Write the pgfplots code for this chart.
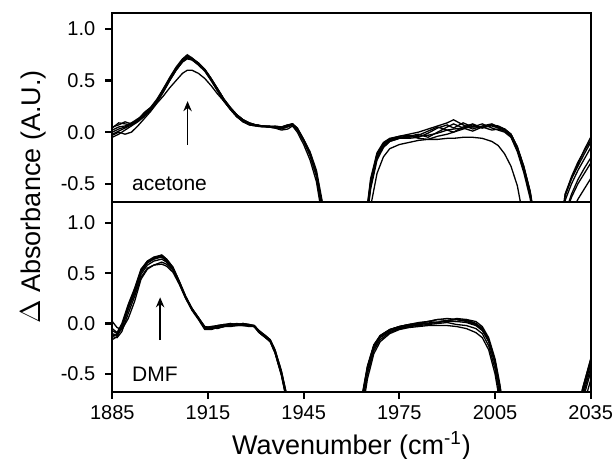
\documentclass[border=0pt]{standalone}
\usepackage{pgfplots}
\pgfplotsset{compat=1.18}
\usepackage{pgfplotstable}
\usepackage{fontspec}
\setmainfont{Liberation Sans}
\usetikzlibrary{arrows.meta}

% acetone traces (top panel)
\pgfplotstableread{
x a b c d e f g
1885 0.00 0.04 -0.05 0.02 -0.03 0.05 -0.02
1887 0.03 0.09 -0.02 0.05 0.00 0.07 0.01
1889 0.05 0.08 0.02 0.06 -0.02 0.10 0.04
1891 0.08 0.07 0.06 0.09 0.00 0.08 0.07
1893 0.11 0.12 0.10 0.13 0.06 0.12 0.11
1895 0.16 0.18 0.15 0.17 0.13 0.19 0.16
1897 0.22 0.23 0.22 0.22 0.20 0.24 0.21
1899 0.30 0.31 0.31 0.29 0.28 0.32 0.29
1901 0.40 0.41 0.42 0.39 0.35 0.42 0.39
1903 0.51 0.52 0.53 0.50 0.43 0.52 0.50
1905 0.61 0.62 0.63 0.60 0.50 0.62 0.60
1907 0.69 0.70 0.71 0.68 0.57 0.70 0.68
1908.5 0.73 0.72 0.75 0.72 0.60 0.74 0.71
1910 0.71 0.71 0.72 0.70 0.60 0.71 0.70
1912 0.66 0.67 0.67 0.65 0.57 0.67 0.66
1914 0.60 0.61 0.60 0.59 0.52 0.61 0.60
1916 0.51 0.52 0.50 0.50 0.45 0.52 0.51
1918 0.41 0.42 0.40 0.40 0.37 0.42 0.42
1920 0.31 0.32 0.30 0.30 0.30 0.32 0.32
1922 0.23 0.24 0.22 0.22 0.23 0.23 0.24
1924 0.16 0.17 0.15 0.15 0.17 0.16 0.17
1926 0.11 0.12 0.10 0.10 0.12 0.11 0.12
1928 0.08 0.08 0.07 0.07 0.09 0.08 0.09
1930 0.07 0.07 0.06 0.06 0.07 0.07 0.07
1932 0.06 0.06 0.06 0.05 0.06 0.06 0.06
1934 0.05 0.06 0.05 0.05 0.05 0.06 0.05
1936 0.05 0.05 0.06 0.04 0.04 0.05 0.05
1938 0.04 0.03 0.05 0.04 0.02 0.05 0.04
1940 0.06 0.05 0.07 0.06 0.03 0.07 0.06
1941.5 0.08 0.07 0.08 0.08 0.06 0.08 0.07
1943 0.03 0.02 0.04 0.03 0.00 0.04 0.03
1945 -0.08 -0.09 -0.07 -0.08 -0.12 -0.07 -0.08
1947 -0.21 -0.23 -0.19 -0.21 -0.27 -0.20 -0.22
1949 -0.40 -0.43 -0.37 -0.41 -0.48 -0.39 -0.42
1951 -0.75 -0.80 -0.70 -0.76 -0.85 -0.73 -0.78
1953 -1.20 -1.20 -1.20 -1.20 -1.20 -1.20 -1.20
1958 -1.50 -1.50 -1.50 -1.50 -1.50 -1.50 -1.50
1963 -1.30 -1.30 -1.30 -1.30 -1.40 -1.30 -1.30
1965 -0.75 -0.72 -0.78 -0.70 -0.95 -0.74 -0.80
1966 -0.50 -0.47 -0.53 -0.45 -0.72 -0.49 -0.55
1968 -0.23 -0.21 -0.25 -0.20 -0.40 -0.22 -0.27
1970 -0.13 -0.11 -0.14 -0.10 -0.24 -0.12 -0.15
1972 -0.08 -0.07 -0.09 -0.06 -0.16 -0.07 -0.09
1975 -0.055 -0.04 -0.06 -0.04 -0.12 -0.05 -0.06
1978 -0.045 -0.02 -0.06 -0.03 -0.10 -0.04 -0.05
1981 -0.04 0.00 -0.05 -0.06 -0.08 -0.02 -0.03
1984 -0.03 0.03 -0.01 -0.07 -0.07 -0.05 0.01
1987 -0.01 0.06 0.04 -0.04 -0.07 0.00 0.05
1990 0.02 0.09 0.07 -0.02 -0.06 0.05 0.02
1992 0.03 0.12 0.04 0.00 -0.06 0.08 0.00
1995 0.04 0.07 0.09 0.03 -0.05 0.04 0.05
1998 0.05 0.03 0.05 0.07 -0.05 0.01 0.08
2001 0.05 0.06 0.08 0.04 -0.06 0.05 0.04
2004 0.06 0.08 0.04 0.07 -0.09 0.02 0.07
2006 0.04 0.05 0.02 0.06 -0.13 0.03 0.05
2008 0.02 0.03 0.00 0.03 -0.21 0.01 0.03
2010 -0.04 -0.02 -0.05 -0.02 -0.33 -0.04 -0.02
2012 -0.17 -0.15 -0.19 -0.14 -0.52 -0.17 -0.15
2014 -0.36 -0.33 -0.39 -0.33 -0.85 -0.36 -0.34
2016 -0.60 -0.57 -0.64 -0.58 -1.20 -0.61 -0.58
2018 -1.00 -0.95 -1.05 -0.97 -1.50 -1.00 -0.97
2022 -1.50 -1.50 -1.50 -1.50 -1.50 -1.50 -1.50
2025 -1.10 -1.05 -1.20 -1.10 -1.30 -1.08 -1.20
2027 -0.62 -0.60 -0.78 -0.66 -0.95 -0.60 -0.80
2029 -0.45 -0.45 -0.60 -0.50 -0.78 -0.43 -0.63
2031 -0.31 -0.33 -0.46 -0.37 -0.65 -0.29 -0.50
2033 -0.17 -0.21 -0.35 -0.26 -0.55 -0.18 -0.40
2035 -0.05 -0.10 -0.25 -0.15 -0.45 -0.08 -0.30
}\acetone

% DMF traces (bottom panel)
\pgfplotstableread{
x a b c d e f g
1885 -0.10 -0.16 0.02 -0.07 -0.13 -0.05 -0.12
1886.5 -0.12 -0.13 -0.04 -0.10 -0.14 -0.09 -0.11
1888 -0.05 -0.02 -0.06 -0.03 -0.08 0.00 -0.04
1890 0.15 0.18 0.05 0.16 0.10 0.19 0.14
1892 0.32 0.34 0.22 0.33 0.27 0.35 0.30
1894 0.51 0.53 0.44 0.52 0.46 0.54 0.49
1896 0.60 0.62 0.54 0.61 0.55 0.62 0.58
1898 0.64 0.65 0.58 0.64 0.58 0.66 0.62
1900.5 0.67 0.68 0.61 0.66 0.59 0.68 0.64
1902 0.63 0.64 0.59 0.62 0.57 0.64 0.61
1904 0.55 0.56 0.53 0.54 0.51 0.56 0.54
1906 0.41 0.42 0.40 0.40 0.39 0.42 0.41
1908 0.26 0.27 0.26 0.25 0.25 0.27 0.26
1910 0.14 0.15 0.14 0.13 0.14 0.15 0.14
1912 0.05 0.06 0.05 0.04 0.05 0.06 0.05
1914 -0.04 -0.03 -0.05 -0.06 -0.03 -0.04 -0.05
1916 -0.05 -0.04 -0.03 -0.06 -0.05 -0.03 -0.04
1918 -0.04 -0.02 -0.03 -0.04 -0.03 -0.02 -0.05
1920 -0.03 -0.01 -0.02 -0.03 -0.02 -0.01 -0.03
1922 -0.02 -0.01 0.00 -0.02 -0.02 0.00 -0.03
1924 -0.02 0.00 -0.01 -0.02 -0.01 -0.01 -0.02
1926 -0.02 -0.01 0.00 -0.01 -0.02 0.00 -0.02
1928 -0.02 -0.02 -0.01 -0.02 -0.03 -0.01 -0.02
1929.5 -0.03 -0.02 -0.02 -0.03 -0.03 -0.02 -0.03
1931 -0.08 -0.07 -0.08 -0.09 -0.09 -0.07 -0.08
1933 -0.13 -0.12 -0.13 -0.14 -0.14 -0.12 -0.13
1934.5 -0.17 -0.16 -0.17 -0.18 -0.18 -0.16 -0.17
1936 -0.27 -0.26 -0.28 -0.29 -0.29 -0.26 -0.28
1938 -0.48 -0.47 -0.50 -0.51 -0.51 -0.47 -0.49
1939.5 -0.70 -0.68 -0.72 -0.73 -0.74 -0.69 -0.71
1941 -1.00 -1.00 -1.00 -1.00 -1.00 -1.00 -1.00
1945 -1.50 -1.50 -1.50 -1.50 -1.50 -1.50 -1.50
1958 -1.50 -1.50 -1.50 -1.50 -1.50 -1.50 -1.50
1961 -1.10 -1.05 -1.15 -1.10 -1.20 -1.08 -1.12
1963.5 -0.72 -0.68 -0.78 -0.70 -0.85 -0.70 -0.75
1965 -0.45 -0.42 -0.50 -0.44 -0.55 -0.43 -0.47
1967 -0.23 -0.21 -0.27 -0.22 -0.30 -0.22 -0.25
1969 -0.13 -0.12 -0.16 -0.12 -0.18 -0.12 -0.14
1972 -0.07 -0.06 -0.09 -0.06 -0.10 -0.06 -0.08
1975 -0.04 -0.03 -0.05 -0.03 -0.06 -0.03 -0.05
1978 -0.02 -0.01 -0.03 -0.01 -0.04 -0.01 -0.03
1981 -0.005 0.01 -0.02 0.00 -0.03 0.00 -0.01
1984 0.005 0.02 -0.01 0.02 -0.02 0.02 0.00
1987 0.015 0.04 0.00 0.01 -0.02 0.04 0.01
1990 0.02 0.05 0.01 0.03 -0.02 0.03 0.03
1993 0.02 0.04 -0.01 0.04 -0.03 0.05 0.02
1996 0.01 0.03 -0.02 0.02 -0.05 0.04 0.04
1999 -0.02 0.00 -0.05 -0.01 -0.09 0.02 0.00
2001 -0.07 -0.05 -0.10 -0.06 -0.14 -0.03 -0.05
2003 -0.18 -0.16 -0.22 -0.17 -0.26 -0.14 -0.16
2005 -0.40 -0.37 -0.45 -0.39 -0.50 -0.35 -0.38
2006.5 -0.66 -0.62 -0.72 -0.65 -0.78 -0.60 -0.64
2008 -1.00 -0.95 -1.05 -1.00 -1.10 -0.92 -0.98
2011 -1.50 -1.50 -1.50 -1.50 -1.50 -1.50 -1.50
2028 -1.50 -1.50 -1.50 -1.50 -1.50 -1.50 -1.50
2030 -1.05 -1.00 -1.15 -1.05 -1.20 -1.00 -1.10
2032.5 -0.68 -0.64 -0.76 -0.68 -0.84 -0.64 -0.72
2035 -0.38 -0.35 -0.48 -0.40 -0.56 -0.36 -0.44
}\dmf

\pgfplotsset{
  panel/.style={
    scale only axis, width=239.2pt, height=94.7pt,
    xmin=1885, xmax=2035,
    axis line style={line width=1.1pt},
    every tick/.style={black, line width=1.1pt},
    major tick length=3.5pt, tick align=outside,
    ytick pos=left, ytick={-0.5,0,0.5,1},
    yticklabel style={xshift=-1.5pt, /pgf/number format/fixed, /pgf/number format/fixed zerofill,
      /pgf/number format/precision=1, /pgf/number format/assume math mode=true},
    xticklabel style={/pgf/number format/1000 sep={}, /pgf/number format/assume math mode=true},
    tick label style={font=\fontsize{10}{12}\selectfont},
  },
  spec/.style={black, line width=0.65pt, no markers},
}
\tikzset{arr/.style={line width=0.9pt, -{Stealth[length=5pt,width=4.2pt]}}}

\begin{document}
\begin{tikzpicture}
\path[use as bounding box] (-56.15pt,-33.65pt) rectangle (250.85pt,195.85pt);

\begin{axis}[panel, at={(0,94.7pt)}, anchor=south west, ymin=-0.68, ymax=1.156, xtick=\empty]
\foreach \c in {a,b,c,d,e,f,g}{\addplot[spec] table[x=x,y=\c] {\acetone};}
\draw[arr] (axis cs:1908.6,-0.12) -- (axis cs:1908.6,0.30);
\node[anchor=base west, font=\fontsize{10.5}{12}\selectfont, inner sep=0pt] at (axis cs:1891.1,-0.57) {acetone};
\end{axis}

\begin{axis}[panel, at={(0,0)}, anchor=south west, ymin=-0.677, ymax=1.204,
  xtick={1885,1915,...,2035}, xtick pos=bottom]
\foreach \c in {a,b,c,d,e,f,g}{\addplot[spec] table[x=x,y=\c] {\dmf};}
\draw[arr] (axis cs:1900,-0.165) -- (axis cs:1900,0.26);
\node[anchor=base west, font=\fontsize{10.5}{12}\selectfont, inner sep=0pt] at (axis cs:1891.1,-0.58) {DMF};
\end{axis}

\node[rotate=90, font=\fontsize{13.5}{16}\selectfont] at (-39.65pt,97.35pt) {$\Delta$ Absorbance (A.U.)};
\node[anchor=base, font=\fontsize{13.5}{16}\selectfont] at (119.6pt,-31.6pt) {Wavenumber (cm\textsuperscript{-1})};
\end{tikzpicture}
\end{document}
